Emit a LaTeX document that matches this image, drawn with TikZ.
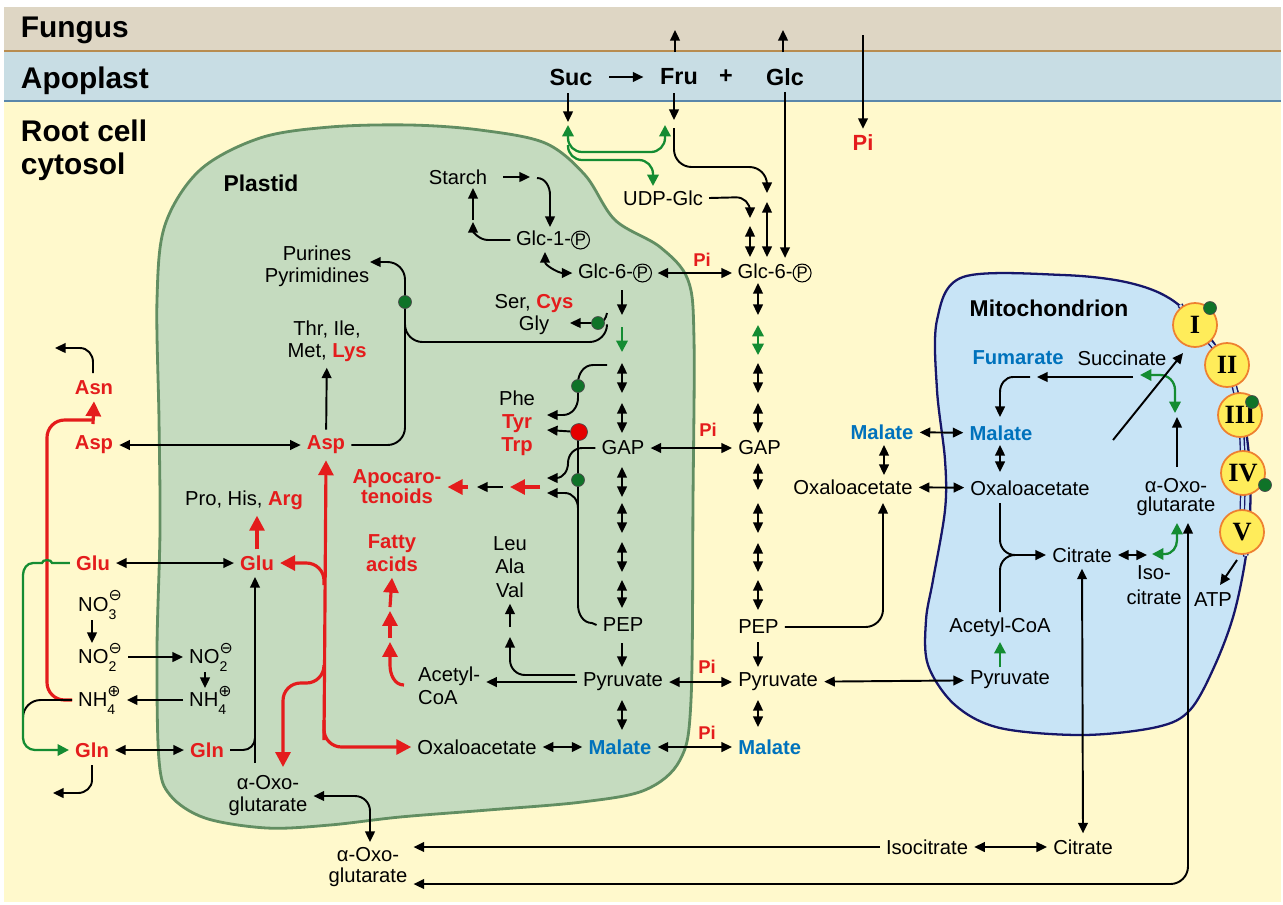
\documentclass[tikz,border=0pt]{standalone}
\usepackage{fontspec}
\setmainfont{Liberation Sans}
\newfontfamily\symfont{DejaVu Sans}
\newfontfamily\romfont{Liberation Serif}
\usetikzlibrary{arrows.meta}

\definecolor{fungusbg}{RGB}{222,214,196}
\definecolor{fungusln}{RGB}{184,140,80}
\definecolor{apobg}{RGB}{200,221,228}
\definecolor{apoln}{RGB}{90,135,170}
\definecolor{cytobg}{RGB}{255,249,204}
\definecolor{plastbg}{RGB}{197,219,191}
\definecolor{plastln}{RGB}{98,142,98}
\definecolor{mitobg}{RGB}{200,228,246}
\definecolor{mitoln}{RGB}{22,22,105}
\definecolor{cplxbg}{RGB}{255,236,90}
\definecolor{cplxln}{RGB}{238,128,48}
\definecolor{myred}{RGB}{228,28,28}
\definecolor{myblue}{RGB}{0,114,188}
\definecolor{mygreen}{RGB}{20,140,50}
\definecolor{dotgreen}{RGB}{15,115,40}

% circled P (phosphate) drawn as a shape
\newcommand{\Pcirc}{\tikz[baseline=(cp.base)]\node[circle,draw,line width=0.6pt,inner sep=0.4pt,
  minimum size=0pt,font=\fontsize{9.5}{9.5}\selectfont] (cp) {P};}
\newcommand{\ionsub}[2]{\rlap{\raisebox{-0.7ex}{\fontsize{8}{8}\selectfont #1}}%
  \raisebox{1.0ex}{\symfont\fontsize{9}{9}\selectfont #2}}

\begin{document}
\begin{tikzpicture}[x=0.02cm,y=-0.02cm,line width=1.1pt,
  >={Triangle[length=6pt,width=5.5pt]},
  every node/.style={font=\fontsize{11.5}{12.5}\selectfont, inner sep=3pt, align=center},
  bmet/.style={font=\fontsize{11.5}{12.5}\selectfont\bfseries},
  redmet/.style={bmet, text=myred},
  bluemet/.style={bmet, text=myblue},
  pilab/.style={font=\fontsize{10.5}{12}\selectfont\bfseries, text=myred},
  region/.style={font=\fontsize{17}{18.7}\selectfont\bfseries, align=left, inner sep=0pt},
  organelle/.style={font=\fontsize{13}{15}\selectfont\bfseries},
  sugar/.style={font=\fontsize{13.3}{15}\selectfont\bfseries},
  cplx/.style={circle, draw=cplxln, fill=cplxbg, line width=1pt, minimum size=0.88cm, inner sep=0pt,
    font=\romfont\fontsize{15}{15}\selectfont\bfseries},
  gdot/.style={circle, fill=dotgreen, draw=black!70, line width=0.4pt, minimum size=0.26cm, inner sep=0pt},
  rdot/.style={circle, fill=red!90!black, draw=black!70, line width=0.4pt, minimum size=0.34cm, inner sep=0pt},
  garr/.style={draw=mygreen, line width=1.3pt, >={Triangle[length=6.5pt,width=6.5pt]}},
  rarr/.style={draw=myred, line width=1.8pt, -{Triangle[length=8.5pt,width=8.5pt]}},
  rline/.style={draw=myred, line width=1.8pt}]
  \useasboundingbox (0,0) rectangle (1283,904);
  % compartments
  \fill[white] (0,0) rectangle (1283,904);
  \fill[cytobg] (4,100) rectangle (1281,902);
  \fill[apobg] (4,51) rectangle (1281,100);
  \fill[fungusbg] (4,7) rectangle (1281,51);
  \draw[fungusln, line width=1.5pt] (4,51) -- (1281,51);
  \draw[apoln, line width=1.5pt] (4,101) -- (1281,101);
  \filldraw[fill=plastbg, draw=plastln, line width=1.6pt] plot[smooth cycle, tension=0.55] coordinates {
    (157,300) (165,225) (200,170) (260,138) (330,127) (410,125) (480,130) (545,143) (585,175)
    (615,220) (660,247) (688,280) (694,340) (693,500) (691,700) (680,760) (645,790) (582,802)
    (488,810) (400,817) (330,825) (267,828) (205,818) (170,795) (159,760) (157,650) (160,530) (159,420)};
  \filldraw[fill=mitobg, draw=mitoln, line width=1.3pt] plot[smooth cycle, tension=0.55] coordinates {
    (963,277) (1063,275) (1130,283) (1175,302) (1215,345) (1240,400) (1250,470) (1248,540)
    (1235,610) (1215,665) (1190,710) (1157,727) (1083,735) (1000,728) (955,705) (928,665)
    (926,620) (933,580) (945,510) (945,460) (937,390) (937,320)};
  \draw[mitoln, line width=0.8pt, double=mitobg, double distance=1.6pt] plot[smooth] coordinates {
    (1180,305) (1195,325) (1227,365) (1240,415) (1243,473) (1242,532) (1246,556)};
  % respiratory chain
  \node[cplx] (c1) at (1195,325) {I};
  \node[cplx] (c2) at (1227,365) {II};
  \node[cplx] (c3) at (1240,415) {III};
  \node[cplx] (c4) at (1243,473) {IV};
  \node[cplx] (c5) at (1242,532) {V};
  \node[gdot] (g1) at (1210,308) {};
  \node[gdot] (g3) at (1252,402) {};
  \node[gdot] (g4) at (1265,485) {};

  % labels
  \node[region, anchor=base west] (fungus) at (20,37) {Fungus};
  \node[region, anchor=base west] (apoplast) at (20,88) {Apoplast};
  \node[region, anchor=north west] (cytosol) at (20,119) {Root cell\\cytosol};
  \node[organelle] (plastid) at (261,183) {Plastid};
  \node[organelle] (mito) at (1049,308) {Mitochondrion};

  % apoplast
  \node[sugar] (suc) at (571,77) {Suc};
  \node[sugar] (fru) at (679,77) {Fru};
  \node[sugar] (plus) at (726,77) {+};
  \node[sugar] (glc) at (785,77) {Glc};
  \node[font=\fontsize{12.5}{14}\selectfont\bfseries, text=myred] (pitop) at (863,143) {Pi};

  % plastid
  \node (starch) at (458,177) {Starch};
  \node (glc1p) at (553,240) {Glc-1-\Pcirc};
  \node (g6pP) at (615,273) {Glc-6-\Pcirc};
  \node (purines) at (317,266) {Purines\\Pyrimidines};
  \node (sercys) at (534,315) {Ser, \textcolor{myred}{\bfseries Cys}\\Gly};
  \node (thrile) at (327,341) {Thr, Ile,\\Met, \textcolor{myred}{\bfseries Lys}};
  \node[font=\fontsize{11.5}{13}\selectfont] (arom) at (517,423) {Phe\\\textcolor{myred}{\bfseries Tyr}\\\textcolor{myred}{\bfseries Trp}};
  \node (gapP) at (623,448) {GAP};
  \node[text=myred, font=\fontsize{11.5}{11.3}\selectfont\bfseries] (apocaro) at (397,487) {Apocaro-\\tenoids};
  \node[redmet, font=\fontsize{11.5}{13}\selectfont\bfseries] (fatty) at (392,553) {Fatty\\acids};
  \node[font=\fontsize{11.5}{13.3}\selectfont] (bcaa) at (510,567) {Leu\\Ala\\Val};
  \node[anchor=west, align=left, font=\fontsize{11.5}{13}\selectfont] (acetylP) at (412,686) {Acetyl-\\CoA};
  \node (pepP) at (623,625) {PEP};
  \node (pyrP) at (623,682) {Pyruvate};
  \node[bluemet] (malP) at (620,747) {Malate};
  \node (oaaP) at (477,747) {Oxaloacetate};
  \node[redmet] (aspP) at (326,445) {Asp};
  \node (arg) at (244,500) {Pro, His, \textcolor{myred}{\bfseries Arg}};
  \node[redmet] (gluP) at (257,563) {Glu};
  \node[anchor=west] (no2P) at (183,657) {NO\ionsub{2}{⊖}};
  \node[anchor=west] (nh4P) at (183,700) {NH\ionsub{4}{⊕}};
  \node[redmet] (glnP) at (207,750) {Gln};
  \node (akgP) at (268,796) {α-Oxo-\\glutarate};

  % cytosol
  \node[anchor=west] (g6pC) at (732,273) {Glc-6-\Pcirc};
  \node (udpglc) at (663,198) {UDP-Glc};
  \node[anchor=west] (gapC) at (732,448) {GAP};
  \node[anchor=west] (pepC) at (732,627) {PEP};
  \node[anchor=west] (pyrC) at (732,682) {Pyruvate};
  \node[bluemet, anchor=west] (malC) at (732,747) {Malate};
  \node[bluemet] (malC2) at (882,432) {Malate};
  \node (oaaC) at (853,487) {Oxaloacetate};
  \node[redmet] (asnC) at (94,388) {Asn};
  \node[redmet] (aspC) at (94,445) {Asp};
  \node[redmet] (gluC) at (93,563) {Glu};
  \node[anchor=west] (no3) at (72,605) {NO\ionsub{3}{⊖}};
  \node[anchor=west] (no2C) at (72,657) {NO\ionsub{2}{⊖}};
  \node[anchor=west] (nh4C) at (72,700) {NH\ionsub{4}{⊕}};
  \node[redmet] (glnC) at (92,750) {Gln};
  \node (akgB) at (368,867) {α-Oxo-\\glutarate};
  \node (isoB) at (927,847) {Isocitrate};
  \node (citB) at (1083,847) {Citrate};
  \node[pilab] (pi1) at (702,260) {Pi};
  \node[pilab] (pi2) at (708,430) {Pi};
  \node[pilab] (pi3) at (707,667) {Pi};
  \node[pilab] (pi4) at (707,733) {Pi};

  % mitochondrion
  \node[bluemet] (fum) at (1018,358) {Fumarate};
  \node (succ) at (1122,358) {Succinate};
  \node[bluemet] (malM) at (1001,433) {Malate};
  \node (oaaM) at (1030,488) {Oxaloacetate};
  \node (citM) at (1082,555) {Citrate};
  \node[font=\fontsize{11.5}{14}\selectfont] (isoM) at (1154,585) {Iso-\\citrate};
  \node[font=\fontsize{11.5}{11}\selectfont] (akgM) at (1176,497) {α-Oxo-\\glutarate};
  \node (acoaM) at (1000,627) {Acetyl-CoA};
  \node (pyrM) at (1010,680) {Pyruvate};
  \node (atp) at (1213,600) {ATP};

  % sucrose import
  \draw[->,shorten <=6pt,shorten >=6pt] (suc) -- (fru);
  \draw[->] (675,52) -- (675,30);
  \draw[->] (783,52) -- (783,30);
  \draw[->] (863,35) -- (pitop);
  \draw[->] (568,93) -- (568,122);
  \draw[->] (674,93) -- (674,120);
  \draw[garr,<->,rounded corners=8pt] (568,125) -- (568,152) -- (665,152) -- (665,125);
  \draw[garr,->,rounded corners=8pt] (568,145) -- (568,160) -- (653,160) -- (653,186);
  \draw[->,rounded corners=10pt] (674,128) -- (674,167) -- (767,167) -- (767,193);
  \draw[->,rounded corners=8pt] (udpglc.east) -- (750,197) -- (750,218);
  \draw[<->] (750,226) -- (750,257);
  \draw[<->] (767,202) -- (767,257);
  \draw[->] (glc) -- (glc |- g6pC.north);
  \draw[<->] (g6pP) -- (g6pC);

  % starch
  \draw[->] (503,177) -- (530,177);
  \draw[->] (537,178) to[out=0,in=90] (550,195) -- (550,227);
  \draw[->] (glc1p.west) -- (488,240) to[out=180,in=-90] (473,222);
  \draw[->] (473,220) -- (473,188);
  \draw[<->] (545,252) to[out=-90,in=180] (g6pP.west);

  % glycolysis
  \draw[->] (622,290) -- (622,315);
  \draw[garr,->] (622,327) -- (622,352);
  \foreach \ya/\yb in {363/393,403/433,467/497,503/533,542/572,580/608}
    \draw[<->] (622,\ya) -- (622,\yb);
  \draw[->] (622,643) -- (622,667);
  \draw[<->] (622,700) -- (622,730);
  \draw[<->] (758,283) -- (758,315);
  \draw[garr,<->] (758,325) -- (758,355);
  \foreach \ya/\yb in {363/393,403/433,463/490,503/533,543/572,580/610}
    \draw[<->] (758,\ya) -- (758,\yb);
  \draw[->] (758,642) -- (758,667);
  \draw[<->] (758,700) -- (758,727);
  \draw[<->] (gapP) -- (gapC);
  \draw[<->] (pyrP) -- (pyrC);
  \draw[<->] (malP) -- (malC);
  \draw[<->] (oaaP) -- (malP);

  % amino acids and branches
  \draw[->,rounded corners=10pt] (aspP.east) -- (405,445) -- (405,262) -- (370,262);
  \draw[rounded corners=10pt] (405,322) -- (405,342) -- (607,342) -- (607,326);
  \draw[->] (607,313) to[out=-100,in=0] (598,323) -- (570,323);
  \draw[->] (aspP) -- (thrile);
  \draw[->] (607,365) -- (593,365) to[out=180,in=90] (578,383) -- (578,398) to[out=-90,in=0] (563,415) -- (547,415);
  \draw (578,440) -- (578,605) to[out=-90,in=180] (592,623) -- (pepP.west);
  \draw[->] (gapP.west) -- (582,448) to[out=180,in=90] (568,463) to[out=-90,in=0] (556,478) -- (547,478);
  \draw[->] (578,508) to[out=90,in=0] (565,493) -- (547,493);
  \node[rdot] (d4) at (579,432) {};
  \draw[->] (d4) -- (547,430);
  \node[gdot] (d1) at (405,302) {};
  \node[gdot] (d2) at (598,323) {};
  \node[gdot] (d3) at (578,386) {};
  \node[gdot] (d5) at (578,480) {};
  \draw[rarr] (540,487) -- (510,487);
  \draw[->] (503,487) -- (477,487);
  \draw[rarr] (468,487) -- (apocaro.east);
  \draw[rarr] (404,685) to[out=180,in=-90] (390,665) -- (390,642);
  \draw[rarr] (390,638) -- (390,611);
  \draw[rarr] (390,607) -- (fatty.south);
  \draw[->] (575,675) -- (525,675) to[out=180,in=-90] (510,660) -- (510,637);
  \draw[->] (510,627) -- (bcaa.south);
  \draw[->] (pyrP.west) -- (pyrP.west -| acetylP.east);

  % aspartate and nitrogen
  \draw[rarr] (324,740) -- (aspP.south);
  \draw[rarr,rounded corners=10pt] (324,720) -- (324,747) -- (oaaP.west);
  \draw[rarr,rounded corners=10pt] (324,585) -- (324,563) -- (gluP.east);
  \draw[rarr,rounded corners=10pt] (324,665) -- (324,683) -- (283,683) -- (283,767);
  \draw[rarr] (gluP.north) -- (gluP.north |- arg.south);
  \draw[<->] (aspC) -- (aspP);
  \draw[<->] (gluC) -- (gluP);
  \draw[->] (255,763) -- (255,577);
  \draw (glnP.east) -- (243,750) to[out=0,in=-90] (255,738);
  \draw[<->] (glnC) -- (glnP);
  \draw[->] (92,620) -- (92,643);
  \draw[->] (no2C.east) -- (no2P.west);
  \draw[->] (205,672) -- (205,688);
  \draw[->] (nh4P.west) -- (nh4C.east);
  \draw[->] (92,765) -- (92,780) to[out=-90,in=0] (78,793) -- (53,793);
  \draw[->] (93,373) -- (93,362) to[out=90,in=0] (80,348) -- (55,348);
  \draw[rline,rounded corners=10pt] (nh4C.west) -- (47,700) -- (47,420) -- (93,420);
  \draw[rarr] (93,424) -- (asnC.south);
  \draw[rounded corners=10pt] (nh4C.west) -- (23,700) -- (23,716);
  \draw[garr,->] (gluC.west) -- (52,563) to[out=90,in=90] (42,563) -- (33,563) to[out=180,in=90] (23,575)
    -- (23,738) to[out=-90,in=180] (35,750) -- (glnC.west);

  % exchange with mitochondrion
  \draw[<->] (akgP.east) -- (355,796) to[out=0,in=90] (370,811) -- (370,842);
  \draw[->] (isoB.west) -- (isoB.west -| akgB.east);
  \draw[<->] (isoB) -- (citB);
  \draw[<->] (citB.north) -- (citM.south);
  \coordinate (botL) at (akgB.east |- 0,884);
  \draw[<->,rounded corners=10pt] (botL) -- (1188,884) -- (1188,523);
  \draw[<->] (malC2) -- (malM);
  \draw[<->] (oaaC) -- (oaaM);
  \draw[<->] (884,445) -- (884,475);
  \draw[->,rounded corners=10pt] (pepC.east) -- (883,627) -- (883,503);
  \draw[<->] (pyrC) -- (pyrM);

  % TCA cycle
  \draw[garr,->] (1000,667) -- (1000,642);
  \draw[->] (1000,503) -- (1000,540) to[out=-90,in=180] (1015,555) -- (citM.west);
  \draw (1000,612) -- (1000,570) to[out=90,in=180] (1015,555);
  \draw[<->] (citM.east) -- (1147,555);
  \draw[garr,<->] (1152,554) -- (1165,554) to[out=0,in=-90] (1177,540) -- (1177,523);
  \draw[->] (1177,467) -- (1177,417);
  \draw[garr,<->] (1140,375) -- (1160,375) to[out=0,in=90] (1175,390) -- (1175,413);
  \draw[->] (1133,377) -- (1037,377);
  \draw[->] (1030,377) -- (1013,377) to[out=180,in=90] (1000,392) -- (1000,417);
  \draw[<->] (1000,445) -- (1000,472);
  \draw[->] (1113,440) -- (1183,353);
  \draw[->] (1237,560) -- (1220,585);
\end{tikzpicture}
\end{document}
